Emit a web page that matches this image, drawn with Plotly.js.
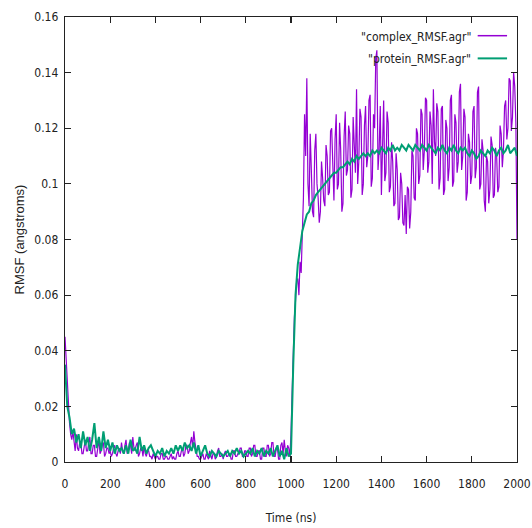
<!DOCTYPE html>
<html>
<head>
<meta charset="utf-8">
<script src="https://cdn.plot.ly/plotly-3.0.1.min.js"></script>
<style>html,body{margin:0;padding:0;background:#fff;}#chart{width:532px;height:528px;}</style>
</head>
<body>
<div id="chart"></div>
<script>
// complex sampled every 5 ns, protein every 10 ns
var complexStep = 5, proteinStep = 10;

var complexRMSF = [
0.045,0.036,0.028,0.020,0.014,0.010,0.008,0.011,0.006,0.004,
0.010,0.005,0.004,0.007,0.007,0.003,0.003,0.006,0.008,0.004,
0.004,0.007,0.009,0.003,0.003,0.006,0.006,0.002,0.002,0.005,
0.008,0.003,0.004,0.006,0.007,0.002,0.003,0.005,0.005,0.003,
0.004,0.002,0.003,0.005,0.006,0.003,0.002,0.004,0.005,0.003,
0.007,0.004,0.003,0.006,0.008,0.003,0.004,0.007,0.006,0.003,
0.009,0.005,0.004,0.006,0.007,0.002,0.003,0.005,0.005,0.002,
0.006,0.003,0.002,0.004,0.004,0.002,0.002,0.001,0.003,0.002,
0.001,0.002,0.002,0.001,0.001,0.003,0.003,0.001,0.001,0.002,
0.002,0.001,0.001,0.002,0.003,0.001,0.002,0.001,0.001,0.003,
0.004,0.002,0.002,0.004,0.005,0.002,0.003,0.006,0.006,0.003,
0.004,0.007,0.009,0.005,0.011,0.007,0.005,0.002,0.002,0.001,
0.001,0.002,0.003,0.001,0.001,0.003,0.002,0.001,0.004,0.002,
0.001,0.003,0.003,0.001,0.002,0.004,0.005,0.002,0.002,0.003,
0.001,0.003,0.004,0.002,0.002,0.003,0.003,0.001,0.001,0.004,
0.004,0.002,0.002,0.003,0.003,0.005,0.005,0.002,0.002,0.004,
0.004,0.002,0.002,0.005,0.005,0.002,0.003,0.006,0.006,0.002,
0.002,0.004,0.004,0.001,0.001,0.005,0.005,0.002,0.002,0.006,
0.006,0.002,0.003,0.007,0.007,0.002,0.002,0.005,0.005,0.001,
0.001,0.006,0.007,0.003,0.008,0.004,0.002,0.006,0.005,0.002,
0.010,0.025,0.040,0.052,0.058,0.065,0.066,0.060,0.072,0.068,
0.082,0.095,0.125,0.110,0.138,0.100,0.092,0.118,0.105,0.090,
0.088,0.112,0.118,0.100,0.095,0.086,0.090,0.108,0.102,0.094,
0.092,0.114,0.110,0.096,0.097,0.119,0.120,0.101,0.094,0.116,
0.125,0.098,0.100,0.122,0.112,0.090,0.093,0.117,0.126,0.103,
0.105,0.121,0.118,0.095,0.098,0.124,0.115,0.104,0.134,0.100,
0.108,0.127,0.124,0.096,0.100,0.121,0.128,0.106,0.110,0.130,
0.132,0.099,0.102,0.125,0.120,0.145,0.148,0.105,0.112,0.128,
0.096,0.118,0.130,0.101,0.104,0.126,0.122,0.097,0.099,0.115,
0.108,0.092,0.093,0.111,0.105,0.087,0.088,0.104,0.100,0.086,
0.085,0.096,0.082,0.099,0.098,0.084,0.090,0.112,0.110,0.095,
0.094,0.120,0.118,0.100,0.103,0.127,0.125,0.105,0.112,0.131,
0.130,0.104,0.108,0.126,0.121,0.100,0.134,0.115,0.110,0.129,
0.126,0.098,0.102,0.127,0.128,0.096,0.098,0.123,0.120,0.101,
0.106,0.130,0.132,0.099,0.101,0.125,0.122,0.104,0.108,0.133,
0.136,0.105,0.110,0.127,0.124,0.094,0.097,0.118,0.115,0.100,
0.103,0.126,0.128,0.102,0.106,0.133,0.135,0.098,0.100,0.116,
0.112,0.094,0.090,0.110,0.108,0.093,0.098,0.117,0.114,0.095,
0.096,0.113,0.110,0.097,0.099,0.121,0.118,0.106,0.112,0.128,
0.130,0.116,0.120,0.138,0.137,0.119,0.124,0.140,0.135,0.122,
0.080
];

var proteinRMSF = [
0.035,0.020,0.016,0.010,0.012,0.007,0.010,0.005,0.011,0.006,
0.009,0.004,0.008,0.014,0.005,0.009,0.004,0.011,0.005,0.008,
0.004,0.007,0.003,0.006,0.004,0.005,0.003,0.006,0.003,0.008,
0.004,0.005,0.003,0.009,0.004,0.006,0.003,0.005,0.006,0.004,
0.002,0.004,0.003,0.005,0.002,0.004,0.003,0.005,0.003,0.006,
0.004,0.006,0.004,0.007,0.005,0.006,0.004,0.007,0.003,0.006,
0.002,0.004,0.006,0.003,0.002,0.004,0.003,0.002,0.004,0.003,
0.002,0.003,0.004,0.002,0.004,0.003,0.005,0.003,0.004,0.002,
0.003,0.004,0.003,0.005,0.002,0.004,0.003,0.005,0.002,0.004,
0.003,0.005,0.002,0.004,0.006,0.002,0.004,0.001,0.005,0.002,
0.003,0.035,0.060,0.071,0.078,0.083,0.086,0.089,0.090,0.093,
0.094,0.096,0.097,0.098,0.099,0.100,0.101,0.102,0.103,0.104,
0.104,0.105,0.106,0.106,0.107,0.108,0.107,0.109,0.108,0.110,
0.109,0.110,0.111,0.110,0.111,0.110,0.112,0.111,0.112,0.111,
0.113,0.112,0.111,0.113,0.112,0.114,0.112,0.113,0.112,0.114,
0.113,0.112,0.114,0.113,0.112,0.114,0.113,0.112,0.114,0.113,
0.112,0.114,0.113,0.112,0.111,0.113,0.112,0.114,0.112,0.111,
0.113,0.112,0.114,0.112,0.111,0.113,0.112,0.113,0.111,0.110,
0.112,0.111,0.109,0.110,0.112,0.111,0.110,0.112,0.111,0.113,
0.112,0.110,0.112,0.113,0.111,0.112,0.114,0.111,0.112,0.113,
0.110
];

var xTickVals = [0,200,400,600,800,1000,1200,1400,1600,1800,2000];
var yTickVals = [0,0.02,0.04,0.06,0.08,0.1,0.12,0.14,0.16];
var yTickText = ["0","0.02","0.04","0.06","0.08","0.1","0.12","0.14","0.16"];
var seriesNames = ['"complex_RMSF.agr"','"protein_RMSF.agr"'];

var complexTime = complexRMSF.map(function(_, i){ return i * complexStep; });
var proteinTime = proteinRMSF.map(function(_, i){ return i * proteinStep; });

var FONT = "DejaVu Sans Condensed, Liberation Sans Narrow, sans-serif";
var TFONT = "Liberation Sans, Arial, sans-serif";
var purple = "#9400d3", green = "#009e73";

var traces = [
  {x: complexTime, y: complexRMSF, type: "scatter", mode: "lines", name: seriesNames[0],
   line: {color: purple, width: 1.2}},
  {x: proteinTime, y: proteinRMSF, type: "scatter", mode: "lines", name: seriesNames[1],
   line: {color: green, width: 2}}
];

var axisCommon = {
  showline: true, linecolor: "#222", linewidth: 1.3, mirror: "ticks",
  ticks: "inside", ticklen: 6, tickwidth: 1.2, tickcolor: "#222",
  showgrid: false, zeroline: false,
  tickfont: {family: FONT, size: 12, color: "#222"}
};

var layout = {
  width: 532, height: 528,
  margin: {l: 65, r: 15, t: 17, b: 66},
  paper_bgcolor: "#fff", plot_bgcolor: "#fff",
  showlegend: false,
  xaxis: Object.assign({}, axisCommon, {
    range: [0, 2000], tickvals: xTickVals, ticklabelstandoff: 10,
    title: {text: "Time (ns)", font: {family: FONT, size: 12, color: "#222"}, standoff: 24}
  }),
  yaxis: Object.assign({}, axisCommon, {
    range: [0, 0.16], tickvals: yTickVals, ticktext: yTickText, ticklabelstandoff: 3,
    title: {text: "RMSF (angstroms)", font: {family: TFONT, size: 13, color: "#222"}, standoff: 6}
  }),
  annotations: [
    {xref: "paper", yref: "paper", x: 0.902, y: 0.955, xanchor: "right", yanchor: "middle",
     text: seriesNames[0], showarrow: false, font: {family: FONT, size: 12, color: "#222"}},
    {xref: "paper", yref: "paper", x: 0.902, y: 0.905, xanchor: "right", yanchor: "middle",
     text: seriesNames[1], showarrow: false, font: {family: FONT, size: 12, color: "#222"}}
  ],
  shapes: [
    {type: "line", xref: "paper", yref: "paper", x0: 0.913, x1: 0.978, y0: 0.958, y1: 0.958,
     line: {color: purple, width: 1.5}},
    {type: "line", xref: "paper", yref: "paper", x0: 0.913, x1: 0.978, y0: 0.907, y1: 0.907,
     line: {color: green, width: 2}}
  ]
};

Plotly.newPlot("chart", traces, layout, {displayModeBar: false, staticPlot: true});
</script>
</body>
</html>
